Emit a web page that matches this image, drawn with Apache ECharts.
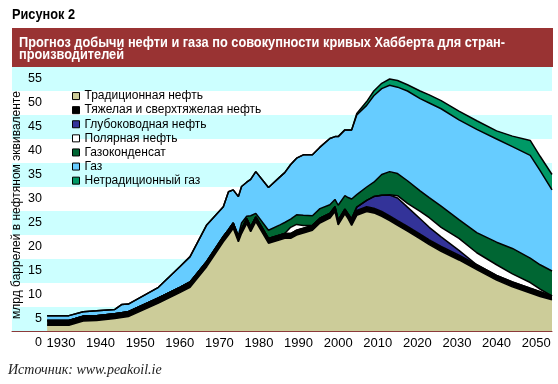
<!DOCTYPE html>
<html><head><meta charset="utf-8">
<script src="https://cdn.jsdelivr.net/npm/echarts@6/dist/echarts.min.js"></script>
<style>html,body{margin:0;padding:0;background:#fff}#c{width:558px;height:384px}</style>
</head><body><div id="c"></div>
<script>
const years = [1926.5, 1932, 1935.6, 1939, 1943.6, 1945.3, 1947, 1954.6, 1960, 1962.6,
  1966.8, 1971, 1972.3, 1973.5, 1974.8, 1975.6, 1976.9, 1977.9, 1979.2, 1982.4,
  1985.3, 1986.5, 1988, 1989.5, 1991.2, 1993.5, 1995.4, 1997.9, 1999.2, 2000,
  2001.7, 2002.5, 2003.4, 2004.7, 2007.2, 2009, 2011, 2013, 2015, 2017.5,
  2020.7, 2023, 2026, 2030.5, 2035, 2040, 2044, 2048.5, 2051, 2054];
const traditionalOil = [1.2, 1.2, 2.1, 2.2, 2.6, 2.8, 3.0, 5.8, 8.0, 9.1,
  13.4, 18.6, 20.0, 21.4, 18.6, 20.3, 22.4, 20.7, 22.8, 18.3,
  19.0, 19.3, 19.3, 20.0, 20.4, 21.0, 22.5, 23.5, 24.9, 22.1,
  24.4, 23.4, 22.0, 24.1, 24.9, 24.6, 23.9, 23.0, 22.0, 20.8,
  19.2, 18.0, 16.6, 14.8, 12.8, 10.6, 9.2, 7.9, 7.2, 6.5];
const heavyOil = [1.0, 1.0, 1.0, 1.0, 1.0, 1.0, 1.0, 1.1, 1.1, 1.1,
  1.1, 1.1, 1.1, 1.1, 1.0, 1.0, 1.0, 1.0, 1.0, 1.0,
  1.0, 1.0, 1.0, 1.0, 1.0, 1.0, 1.0, 1.0, 1.0, 1.0,
  1.0, 1.0, 1.0, 1.0, 1.0, 1.0, 1.0, 1.0, 1.0, 1.0,
  1.0, 1.0, 1.0, 1.0, 1.0, 1.0, 1.0, 1.0, 1.0, 0.8];
const deepwaterOil = [0, 0, 0, 0, 0, 0, 0, 0, 0, 0,
  0, 0, 0, 0, 0, 0, 0, 0, 0, 0,
  0, 0, 0, 0, 0, 0, 0, 0, 0, 0,
  0, 0, 0.4, 0.7, 1.3, 2.4, 3.4, 4.3, 4.7, 4.0,
  3.2, 2.6, 2.0, 1.0, 0, 0, 0, 0, 0, 0];
const polarOil = [0, 0, 0, 0, 0, 0, 0, 0, 0, 0,
  0, 0, 0, 0, 0, 0, 0, 0, 0, 0,
  0, 0, 1.3, 1.2, 0.6, 0, 0, 0, 0, 0,
  0, 0, 0, 0, 0, 0, 0, 0.1, 0.5, 0.8,
  1.5, 2.0, 2.0, 2.5, 2.5, 2.2, 1.7, 1.2, 0.5, 0];
const gasCondensate = [0, 0, 0, 0, 0, 0, 0, 0, 0, 0,
  0, 0, 0, 0, 0.3, 1.2, 0.5, 2.3, 0.7, 1.7,
  2.1, 2.3, 1.7, 2.0, 2.1, 2.0, 2.0, 1.8, 1.5, 3.1,
  2.8, 3.4, 4.1, 2.6, 2.8, 3.0, 4.3, 4.8, 4.6, 4.7,
  4.3, 4.2, 4.4, 3.9, 4.2, 4.7, 5.3, 5.1, 5.1, 5.2];
const gas = [1.0, 1.0, 0.9, 1.0, 0.9, 1.7, 1.6, 2.2, 4.3, 5.3,
  7.6, 6.2, 7.9, 6.9, 8.1, 7.6, 7.1, 7.6, 8.7, 8.9,
  10.0, 10.4, 11.4, 11.8, 12.6, 12.7, 12.8, 13.8, 13.1, 14.3,
  13.7, 14.1, 14.4, 16.6, 17.0, 18.0, 17.9, 18.0, 18.0, 18.7,
  19.2, 19.7, 20.3, 20.8, 21.5, 21.5, 21.2, 21.4, 19.6, 16.9];
const unconventionalGas = [0, 0, 0, 0, 0, 0, 0, 0, 0, 0,
  0, 0, 0, 0, 0, 0, 0, 0, 0, 0,
  0, 0, 0, 0, 0, 0, 0, 0, 0, 0,
  0, 0, 0, 0.3, 0.8, 1.0, 1.1, 1.3, 1.4, 1.3,
  1.6, 1.7, 1.7, 1.8, 1.8, 1.7, 2.2, 3.1, 3.0, 3.2];
const xTickLabels = [1930, 1940, 1950, 1960, 1970, 1980, 1990, 2000, 2010, 2020, 2030, 2040, 2050];
const seriesNames = ['Традиционная нефть', 'Тяжелая и сверхтяжелая нефть', 'Глубоководная нефть',
  'Полярная нефть', 'Газоконденсат', 'Газ', 'Нетрадиционный газ'];
const seriesValues = [traditionalOil, heavyOil, deepwaterOil, polarOil, gasCondensate, gas, unconventionalGas];

const fillColors = ['#cccc99', '#000000', '#333399', '#ffffff', '#006633', '#66ccff', '#009966'];

const figLabel = 'Рисунок 2';
const titleLine1 = 'Прогноз добычи нефти и газа по совокупности кривых Хабберта для стран-';
const titleLine2 = 'производителей';
const condFont = 'bold 15px "Liberation Sans", Arial, sans-serif';
const mctx = document.createElement('canvas').getContext('2d');
mctx.font = condFont;
const titleScale = 486 / mctx.measureText(titleLine1).width;
const figScale = 63 / mctx.measureText(figLabel).width;

const chart = echarts.init(document.getElementById('c'), null, {renderer: 'canvas'});
chart.setOption({
  animation: false,
  backgroundColor: '#ffffff',
  grid: {left: 12, right: 6, top: 67, bottom: 53, containLabel: false},
  xAxis: {
    type: 'value', min: 1917.63, max: 2054,
    axisLine: {show: true, lineStyle: {color: '#8b3a3a', width: 1}},
    axisTick: {show: false},
    splitLine: {show: false},
    axisLabel: {customValues: xTickLabels, color: '#000', fontSize: 13, fontFamily: 'Liberation Sans', margin: 6,
      formatter: v => String(Math.round(v))}
  },
  yAxis: {
    type: 'value', min: 0, max: 55, interval: 5,
    axisLine: {show: false}, axisTick: {show: false}, splitLine: {show: false},
    splitArea: {show: true, areaStyle: {color: ['#ccffff', '#ffffff']}},
    axisLabel: {margin: -30, align: 'right', verticalAlign: 'top', lineHeight: 24, showMinLabel: true, showMaxLabel: true,
      fontSize: 12.5, color: '#000', fontFamily: 'Liberation Sans'}
  },
  legend: {
    orient: 'vertical', left: 72, top: 89, padding: 0, itemWidth: 7, itemHeight: 7, itemGap: 0,
    icon: 'rect', selectedMode: false, z: 10,
    textStyle: {fontSize: 12, lineHeight: 14.1, color: '#000', fontFamily: 'Liberation Sans'},
    data: seriesNames.map((n, i) => ({name: n, itemStyle: {color: fillColors[i], borderColor: '#000', borderWidth: 1}}))
  },
  series: seriesNames.map((n, i) => ({
    name: n, type: 'line', stack: 'total', symbol: 'none',
    data: years.map((y, j) => [seriesValues[i][j], y]),
    encode: {x: 1, y: 0},
    lineStyle: {color: '#000', width: 1.5},
    areaStyle: {color: fillColors[i], opacity: 1},
    itemStyle: {color: fillColors[i]},
    emphasis: {disabled: true}
  })),
  graphic: [
    {type: 'text', x: 12, y: 7, z: 100, scaleX: figScale, style: {text: figLabel, font: condFont, fill: '#000'}},
    {type: 'rect', z: 100, shape: {x: 12, y: 28, width: 541, height: 39}, style: {fill: '#993333'}},
    {type: 'text', x: 19, y: 36.5, z: 101, scaleX: titleScale, style: {text: titleLine1 + '\n' + titleLine2,
      font: condFont, fill: '#ffffff', lineHeight: 12.3}},
    {type: 'text', x: 17, y: 205, z: 100, rotation: Math.PI / 2, style: {text: 'млрд баррелей в нефтяном эквиваленте',
      font: '12px "Liberation Sans"', fill: '#000', align: 'center', verticalAlign: 'middle', textAlign: 'center', textVerticalAlign: 'middle'}},
    {type: 'text', x: 8, y: 370, z: 100, style: {text: 'Источник: www.peakoil.ie', font: 'italic 14px "Liberation Serif"', fill: '#222',
      verticalAlign: 'middle', textVerticalAlign: 'middle'}}
  ]
});
</script></body></html>
